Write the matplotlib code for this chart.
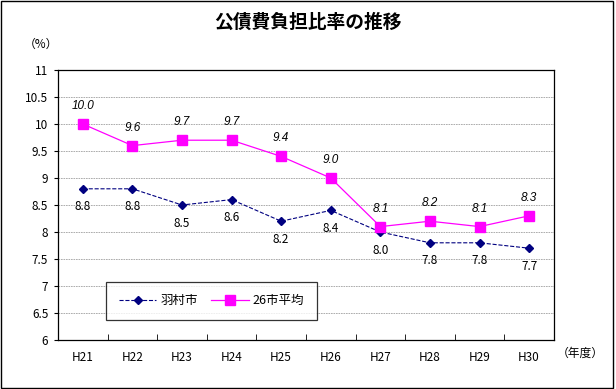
import matplotlib.pyplot as plt
from matplotlib.patches import Rectangle

plt.rcParams['font.family'] = ['Noto Sans CJK JP', 'DejaVu Sans']

# データ
years = ["H21", "H22", "H23", "H24", "H25", "H26", "H27", "H28", "H29", "H30"]
hamura = [8.8, 8.8, 8.5, 8.6, 8.2, 8.4, 8.0, 7.8, 7.8, 7.7]
avg26 = [10.0, 9.6, 9.7, 9.7, 9.4, 9.0, 8.1, 8.2, 8.1, 8.3]
yticks = [6, 6.5, 7, 7.5, 8, 8.5, 9, 9.5, 10, 10.5, 11]

fig = plt.figure(figsize=(6.16, 3.89), dpi=100)
ax = fig.add_axes([0.0942, 0.126, 0.805, 0.694])

x = list(range(len(years)))

ax.plot(x, hamura, color='#000080', linestyle='--', linewidth=0.8,
        marker='D', markersize=4.5, label='羽村市')
ax.plot(x, avg26, color='#FF00FF', linestyle='-', linewidth=0.9,
        marker='s', markersize=7, label='26市平均')

# 数値ラベル
for xi, v in zip(x, hamura):
    ax.annotate(f"{v:.1f}", (xi, v), xytext=(0, -13), textcoords='offset points',
                ha='center', va='center', fontsize=8.5)
for xi, v in zip(x, avg26):
    ax.annotate(f"{v:.1f}", (xi, v), xytext=(0, 13), textcoords='offset points',
                ha='center', va='center', fontsize=8.5, style='italic',
                family=['Liberation Sans', 'DejaVu Sans'])

ax.set_xlim(-0.5, len(years) - 0.5)
ax.set_ylim(6, 11)
ax.set_yticks(yticks)
ax.set_yticklabels([f"{t:g}" for t in yticks], fontsize=8.5)
ax.set_xticks(x)
ax.set_xticklabels(years, fontsize=8.5)
ax.set_xticks([i + 0.5 for i in x[:-1]], minor=True)
ax.tick_params(axis='x', which='major', length=0, pad=8)
ax.tick_params(axis='x', which='minor', length=4, direction='in')
ax.tick_params(axis='y', length=3, pad=4)

ax.grid(axis='y', color='#A0A0A0', linestyle=(0, (2, 1)), linewidth=0.6)
ax.set_axisbelow(True)
for s in ax.spines.values():
    s.set_linewidth(0.9)

leg = ax.legend(loc='lower left', bbox_to_anchor=(0.085, 0.052), ncol=2,
                frameon=True, fancybox=False, edgecolor='black', fontsize=9,
                borderpad=1.0, handlelength=3.0, columnspacing=1.1,
                handletextpad=0.3)
leg.get_frame().set_linewidth(0.9)

fig.text(0.5, 0.943, "公債費負担比率の推移", ha='center', va='center',
         fontsize=13.5, fontweight='bold')
fig.text(0.066, 0.885, "（%）", ha='center', va='center', fontsize=8.5)
fig.text(0.942, 0.092, "（年度）", ha='center', va='center', fontsize=8.5)

fig.add_artist(Rectangle((0.002, 0.003), 0.993, 0.994, transform=fig.transFigure,
                         fill=False, edgecolor='black', linewidth=1.0))

plt.savefig("out.png", dpi=100)
